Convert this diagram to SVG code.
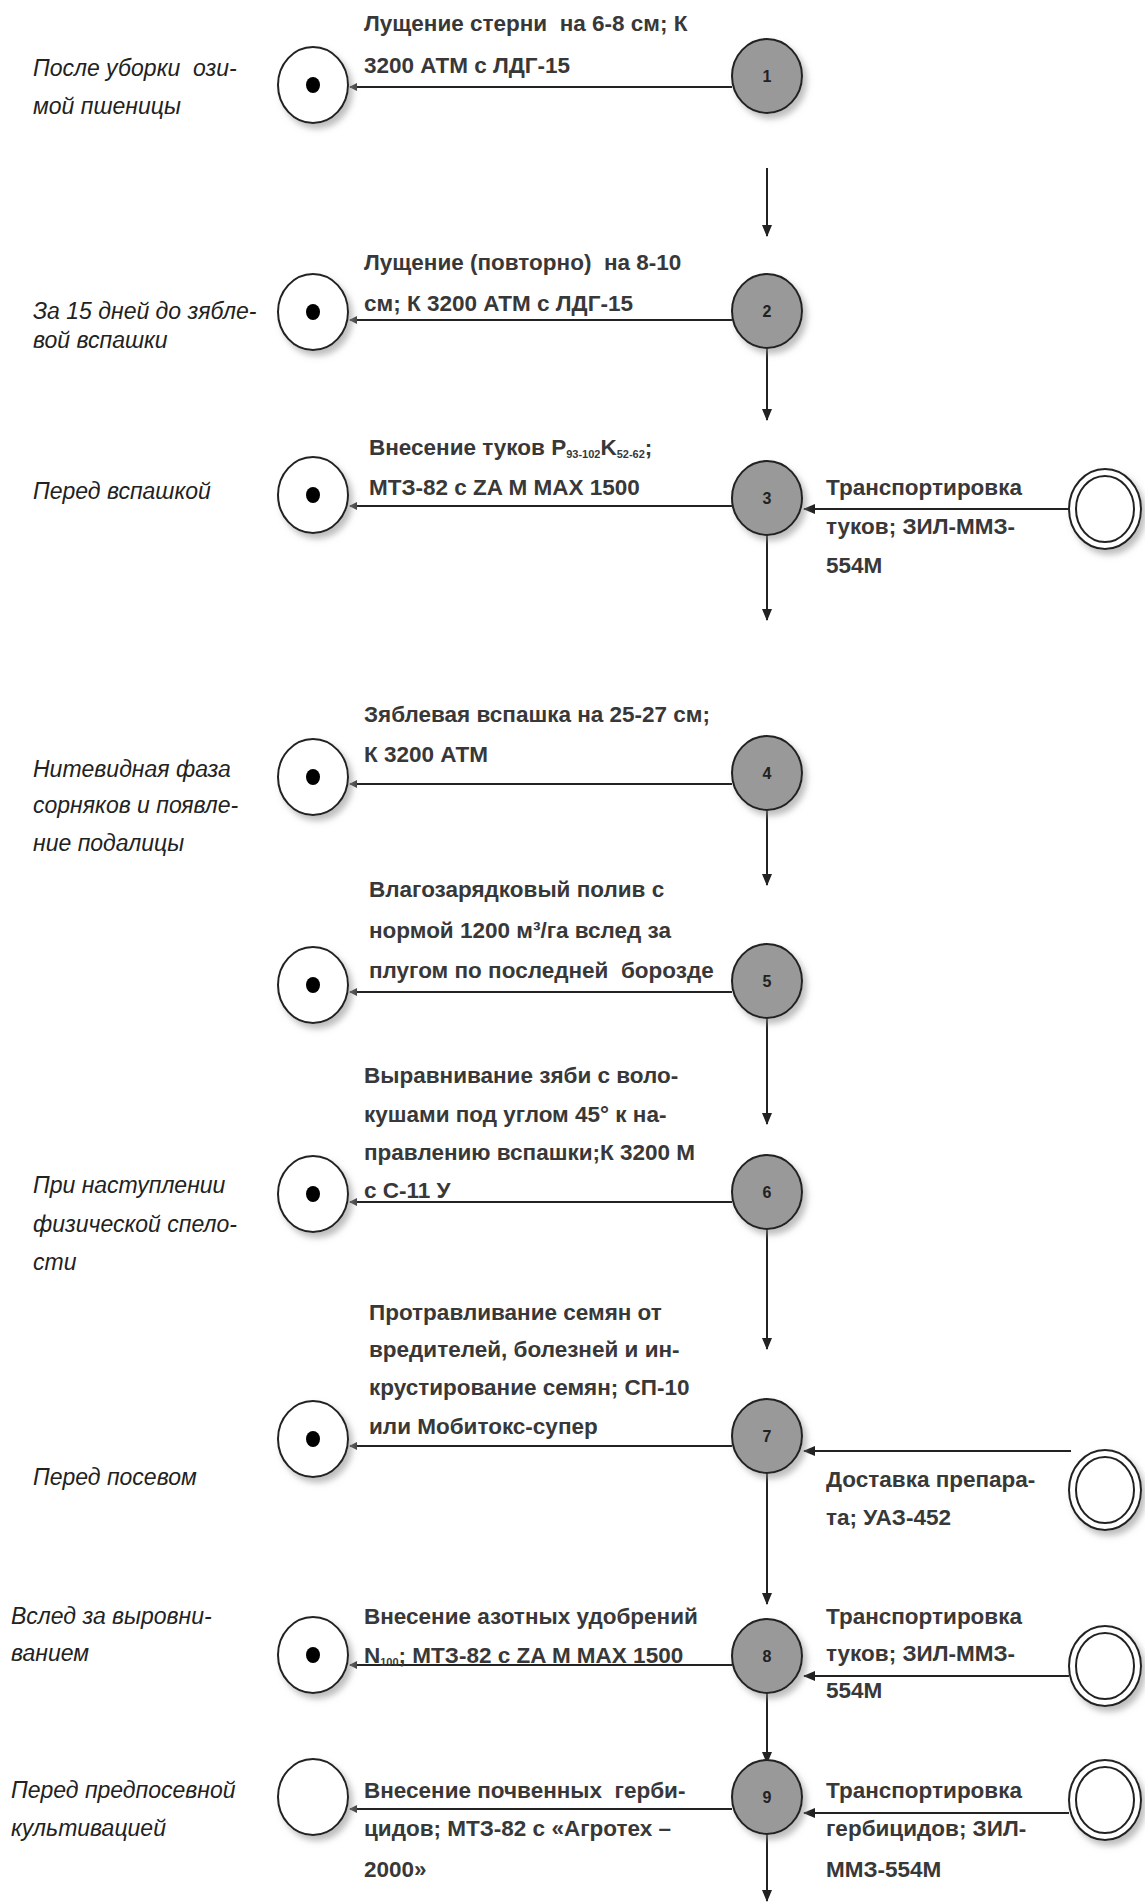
<svg xmlns="http://www.w3.org/2000/svg" width="1145" height="1903" viewBox="0 0 1145 1903">
<style>
.bg{fill:#ffffff}
text{white-space:pre}
.t{font-family:"Liberation Sans",Arial,sans-serif;font-size:22.5px;font-weight:bold;fill:#383838}
.l{font-family:"Liberation Sans",Arial,sans-serif;font-size:23px;font-style:italic;fill:#222}
.n{font-family:"Liberation Sans",Arial,sans-serif;font-size:16px;font-weight:bold;fill:#222;text-anchor:middle}
.sub{font-size:11px}
.w{fill:#fff;stroke:#222;stroke-width:2}
.g{fill:#999999;stroke:#222;stroke-width:2}
.d{fill:#000}
.c{stroke:#222;stroke-width:2;fill:none}
</style>
<defs>
<filter id="sh" x="-30%" y="-30%" width="170%" height="170%">
<feDropShadow dx="4" dy="5" stdDeviation="3" flood-color="#888" flood-opacity="0.55"/>
</filter>
<marker id="ah" markerWidth="12" markerHeight="10" refX="11" refY="5" orient="auto" markerUnits="userSpaceOnUse">
<path d="M0,0 L12,5 L0,10 Z" fill="#222"/>
</marker>
<marker id="as" markerWidth="8" markerHeight="8" refX="7" refY="4" orient="auto" markerUnits="userSpaceOnUse">
<path d="M0,0 L8,4 L0,8 Z" fill="#444"/>
</marker>
</defs>
<rect class="bg" x="0" y="0" width="1145" height="1903"/>

<g id="connectors">
<line class="c" x1="732" y1="87" x2="350" y2="87" marker-end="url(#as)"/>
<line class="c" x1="767" y1="168" x2="767" y2="236" marker-end="url(#ah)"/>
<line class="c" x1="732" y1="320" x2="350" y2="320" marker-end="url(#as)"/>
<line class="c" x1="767" y1="348" x2="767" y2="420" marker-end="url(#ah)"/>
<line class="c" x1="732" y1="506" x2="350" y2="506" marker-end="url(#as)"/>
<line class="c" x1="1069" y1="509" x2="804" y2="509" marker-end="url(#ah)"/>
<line class="c" x1="767" y1="535" x2="767" y2="620" marker-end="url(#ah)"/>
<line class="c" x1="732" y1="784" x2="350" y2="784" marker-end="url(#as)"/>
<line class="c" x1="767" y1="810" x2="767" y2="885" marker-end="url(#ah)"/>
<line class="c" x1="732" y1="992" x2="350" y2="992" marker-end="url(#as)"/>
<line class="c" x1="767" y1="1018" x2="767" y2="1124" marker-end="url(#ah)"/>
<line class="c" x1="732" y1="1202" x2="350" y2="1202" marker-end="url(#as)"/>
<line class="c" x1="767" y1="1229" x2="767" y2="1349" marker-end="url(#ah)"/>
<line class="c" x1="732" y1="1446" x2="350" y2="1446" marker-end="url(#as)"/>
<line class="c" x1="1071" y1="1451" x2="804" y2="1451" marker-end="url(#ah)"/>
<line class="c" x1="767" y1="1473" x2="767" y2="1604" marker-end="url(#ah)"/>
<line class="c" x1="732" y1="1665" x2="350" y2="1665" marker-end="url(#as)"/>
<line class="c" x1="1069" y1="1676" x2="804" y2="1676" marker-end="url(#ah)"/>
<line class="c" x1="767" y1="1693" x2="767" y2="1763" marker-end="url(#ah)"/>
<line class="c" x1="732" y1="1809" x2="350" y2="1809" marker-end="url(#as)"/>
<line class="c" x1="1069" y1="1813" x2="804" y2="1813" marker-end="url(#ah)"/>
<line class="c" x1="767" y1="1834" x2="767" y2="1901" marker-end="url(#ah)"/>
</g>

<g id="row1">
<text class="l" x="33" y="76">После уборки  ози-</text>
<text class="l" x="33" y="114">мой пшеницы</text>
<g id="w1"><ellipse class="w" cx="313" cy="85" rx="35" ry="38" filter="url(#sh)"/><ellipse class="d" cx="313" cy="85" rx="7" ry="8"/></g>
<text class="t" x="364" y="31">Лущение стерни  на 6-8 см; К</text>
<text class="t" x="364" y="73">3200 АТМ с ЛДГ-15</text>
<g id="n1"><ellipse class="g" cx="767" cy="76" rx="35" ry="37" filter="url(#sh)"/><text class="n" x="767" y="82">1</text></g>
</g>

<g id="row2">
<text class="l" x="33" y="319">За 15 дней до зябле-</text>
<text class="l" x="33" y="348">вой вспашки</text>
<g id="w2"><ellipse class="w" cx="313" cy="312" rx="35" ry="38" filter="url(#sh)"/><ellipse class="d" cx="313" cy="312" rx="7" ry="8"/></g>
<text class="t" x="364" y="270">Лущение (повторно)  на 8-10</text>
<text class="t" x="364" y="311">см; К 3200 АТМ с ЛДГ-15</text>
<g id="n2"><ellipse class="g" cx="767" cy="311" rx="35" ry="37" filter="url(#sh)"/><text class="n" x="767" y="317">2</text></g>
</g>

<g id="row3">
<text class="l" x="33" y="499">Перед вспашкой</text>
<g id="w3"><ellipse class="w" cx="313" cy="495" rx="35" ry="38" filter="url(#sh)"/><ellipse class="d" cx="313" cy="495" rx="7" ry="8"/></g>
<text class="t" x="369" y="455">Внесение туков P<tspan class="sub" dy="3">93-102</tspan><tspan dy="-3">K</tspan><tspan class="sub" dy="3">52-62</tspan><tspan dy="-3">;</tspan></text>
<text class="t" x="369" y="495">МТЗ-82 с ZA M MAX 1500</text>
<g id="n3"><ellipse class="g" cx="767" cy="498" rx="35" ry="37" filter="url(#sh)"/><text class="n" x="767" y="504">3</text></g>
<text class="t" x="826" y="495">Транспортировка</text>
<text class="t" x="826" y="534">туков; ЗИЛ-ММЗ-</text>
<text class="t" x="826" y="573">554М</text>
<g id="s3"><ellipse class="w" cx="1105" cy="509" rx="36" ry="40" filter="url(#sh)"/><ellipse class="w" cx="1105" cy="509" rx="29" ry="33"/></g>
</g>

<g id="row4">
<text class="l" x="33" y="777">Нитевидная фаза</text>
<text class="l" x="33" y="813">сорняков и появле-</text>
<text class="l" x="33" y="851">ние подалицы</text>
<g id="w4"><ellipse class="w" cx="313" cy="777" rx="35" ry="38" filter="url(#sh)"/><ellipse class="d" cx="313" cy="777" rx="7" ry="8"/></g>
<text class="t" x="364" y="722">Зяблевая вспашка на 25-27 см;</text>
<text class="t" x="364" y="762">К 3200 АТМ</text>
<g id="n4"><ellipse class="g" cx="767" cy="773" rx="35" ry="37" filter="url(#sh)"/><text class="n" x="767" y="779">4</text></g>
</g>

<g id="row5">
<g id="w5"><ellipse class="w" cx="313" cy="985" rx="35" ry="38" filter="url(#sh)"/><ellipse class="d" cx="313" cy="985" rx="7" ry="8"/></g>
<text class="t" x="369" y="897">Влагозарядковый полив с</text>
<text class="t" x="369" y="938">нормой 1200 м³/га вслед за</text>
<text class="t" x="369" y="978">плугом по последней  борозде</text>
<g id="n5"><ellipse class="g" cx="767" cy="981" rx="35" ry="37" filter="url(#sh)"/><text class="n" x="767" y="987">5</text></g>
</g>

<g id="row6">
<text class="l" x="33" y="1193">При наступлении</text>
<text class="l" x="33" y="1232">физической спело-</text>
<text class="l" x="33" y="1270">сти</text>
<g id="w6"><ellipse class="w" cx="313" cy="1194" rx="35" ry="38" filter="url(#sh)"/><ellipse class="d" cx="313" cy="1194" rx="7" ry="8"/></g>
<text class="t" x="364" y="1083">Выравнивание зяби с воло-</text>
<text class="t" x="364" y="1122">кушами под углом 45° к на-</text>
<text class="t" x="364" y="1160">правлению вспашки;К 3200 М</text>
<text class="t" x="364" y="1198">с С-11 У</text>
<g id="n6"><ellipse class="g" cx="767" cy="1192" rx="35" ry="37" filter="url(#sh)"/><text class="n" x="767" y="1198">6</text></g>
</g>

<g id="row7">
<text class="l" x="33" y="1485">Перед посевом</text>
<g id="w7"><ellipse class="w" cx="313" cy="1439" rx="35" ry="38" filter="url(#sh)"/><ellipse class="d" cx="313" cy="1439" rx="7" ry="8"/></g>
<text class="t" x="369" y="1320">Протравливание семян от</text>
<text class="t" x="369" y="1357">вредителей, болезней и ин-</text>
<text class="t" x="369" y="1395">крустирование семян; СП-10</text>
<text class="t" x="369" y="1434">или Мобитокс-супер</text>
<g id="n7"><ellipse class="g" cx="767" cy="1436" rx="35" ry="37" filter="url(#sh)"/><text class="n" x="767" y="1442">7</text></g>
<text class="t" x="826" y="1487">Доставка препара-</text>
<text class="t" x="826" y="1525">та; УАЗ-452</text>
<g id="s7"><ellipse class="w" cx="1105" cy="1490" rx="36" ry="40" filter="url(#sh)"/><ellipse class="w" cx="1105" cy="1490" rx="29" ry="33"/></g>
</g>

<g id="row8">
<text class="l" x="11" y="1624">Вслед за выровни-</text>
<text class="l" x="11" y="1661">ванием</text>
<g id="w8"><ellipse class="w" cx="313" cy="1655" rx="35" ry="38" filter="url(#sh)"/><ellipse class="d" cx="313" cy="1655" rx="7" ry="8"/></g>
<text class="t" x="364" y="1624">Внесение азотных удобрений</text>
<text class="t" x="364" y="1663">N<tspan class="sub" dy="3">100</tspan><tspan dy="-3">; МТЗ-82 с ZA M MAX 1500</tspan></text>
<g id="n8"><ellipse class="g" cx="767" cy="1656" rx="35" ry="37" filter="url(#sh)"/><text class="n" x="767" y="1662">8</text></g>
<text class="t" x="826" y="1624">Транспортировка</text>
<text class="t" x="826" y="1661">туков; ЗИЛ-ММЗ-</text>
<text class="t" x="826" y="1698">554М</text>
<g id="s8"><ellipse class="w" cx="1105" cy="1666" rx="36" ry="40" filter="url(#sh)"/><ellipse class="w" cx="1105" cy="1666" rx="29" ry="33"/></g>
</g>

<g id="row9">
<text class="l" x="11" y="1798">Перед предпосевной</text>
<text class="l" x="11" y="1836">культивацией</text>
<g id="w9"><ellipse class="w" cx="313" cy="1797" rx="35" ry="38" filter="url(#sh)"/></g>
<text class="t" x="364" y="1798">Внесение почвенных  герби-</text>
<text class="t" x="364" y="1836">цидов; МТЗ-82 с «Агротех –</text>
<text class="t" x="364" y="1877">2000»</text>
<g id="n9"><ellipse class="g" cx="767" cy="1797" rx="35" ry="37" filter="url(#sh)"/><text class="n" x="767" y="1803">9</text></g>
<text class="t" x="826" y="1798">Транспортировка</text>
<text class="t" x="826" y="1836">гербицидов; ЗИЛ-</text>
<text class="t" x="826" y="1877">ММЗ-554М</text>
<g id="s9"><ellipse class="w" cx="1105" cy="1800" rx="36" ry="40" filter="url(#sh)"/><ellipse class="w" cx="1105" cy="1800" rx="29" ry="33"/></g>
</g>
</svg>
